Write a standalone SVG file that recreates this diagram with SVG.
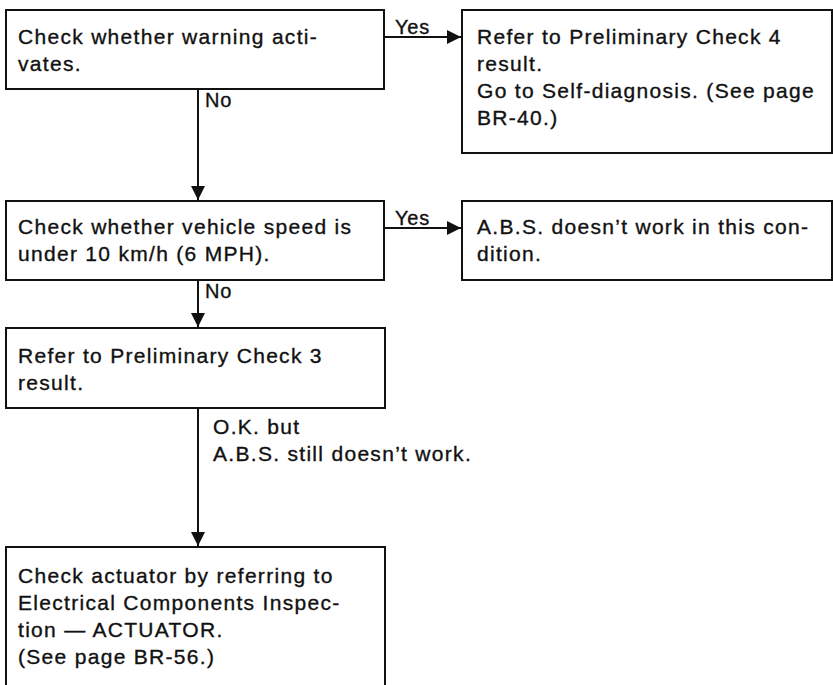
<svg xmlns="http://www.w3.org/2000/svg" width="833" height="685" viewBox="0 0 833 685">
  <style>
    .box { fill: #fff; stroke: #111; stroke-width: 2; }
    .txt { font-family: "Liberation Sans", Arial, sans-serif; font-size: 21px; letter-spacing: 1.3px; fill: #111; stroke: #111; stroke-width: 0.35px; }
    .lbl { font-family: "Liberation Sans", Arial, sans-serif; font-size: 20px; letter-spacing: 0.8px; fill: #111; stroke: #111; stroke-width: 0.35px; }
    .wire { fill: none; stroke: #111; stroke-width: 2; }
  </style>
  <defs>
    <marker id="arrow" markerUnits="userSpaceOnUse" markerWidth="15" markerHeight="15" viewBox="0 0 15 15" refX="14" refY="7.5" orient="auto">
      <path d="M0,0.5 L14,7.5 L0,14.5 Z" fill="#111"/>
    </marker>
  </defs>
  <rect width="833" height="685" fill="#fff"/>

  <!-- connectors and their labels -->
  <g id="connectors">
    <line class="wire" x1="384" y1="37" x2="461" y2="37" marker-end="url(#arrow)"/>
    <line class="wire" x1="198" y1="89" x2="198" y2="200" marker-end="url(#arrow)"/>
    <line class="wire" x1="384" y1="228" x2="461" y2="228" marker-end="url(#arrow)"/>
    <line class="wire" x1="198" y1="280" x2="198" y2="327" marker-end="url(#arrow)"/>
    <line class="wire" x1="198" y1="408" x2="198" y2="546" marker-end="url(#arrow)"/>
    <text class="lbl" x="395" y="34">Yes</text>
    <text class="lbl" x="205" y="107">No</text>
    <text class="lbl" x="395" y="225">Yes</text>
    <text class="lbl" x="205" y="298">No</text>
    <text class="txt" x="213" y="434">O.K. but</text>
    <text class="txt" x="213" y="461">A.B.S. still doesn’t work.</text>
  </g>

  <g id="warning-check">
    <rect class="box" x="6" y="10" width="378" height="79"/>
    <text class="txt" x="18" y="44">Check whether warning acti-</text>
    <text class="txt" x="18" y="71">vates.</text>
  </g>

  <g id="preliminary-check-4">
    <rect class="box" x="462" y="10" width="370" height="143"/>
    <text class="txt" x="477" y="44">Refer to Preliminary Check 4</text>
    <text class="txt" x="477" y="71">result.</text>
    <text class="txt" x="477" y="98">Go to Self-diagnosis. (See page</text>
    <text class="txt" x="477" y="125">BR-40.)</text>
  </g>

  <g id="speed-check">
    <rect class="box" x="6" y="201" width="378" height="79"/>
    <text class="txt" x="18" y="234">Check whether vehicle speed is</text>
    <text class="txt" x="18" y="261">under 10 km/h (6 MPH).</text>
  </g>

  <g id="abs-low-speed">
    <rect class="box" x="462" y="201" width="370" height="79"/>
    <text class="txt" x="477" y="234">A.B.S. doesn’t work in this con-</text>
    <text class="txt" x="477" y="261">dition.</text>
  </g>

  <g id="preliminary-check-3">
    <rect class="box" x="6" y="328" width="379" height="80"/>
    <text class="txt" x="18" y="363">Refer to Preliminary Check 3</text>
    <text class="txt" x="18" y="390">result.</text>
  </g>

  <g id="actuator-check">
    <path class="box" d="M6,686 V547 H385 V686"/>
    <text class="txt" x="18" y="583">Check actuator by referring to</text>
    <text class="txt" x="18" y="610">Electrical Components Inspec-</text>
    <text class="txt" x="18" y="637">tion — ACTUATOR.</text>
    <text class="txt" x="18" y="664">(See page BR-56.)</text>
  </g>
</svg>
